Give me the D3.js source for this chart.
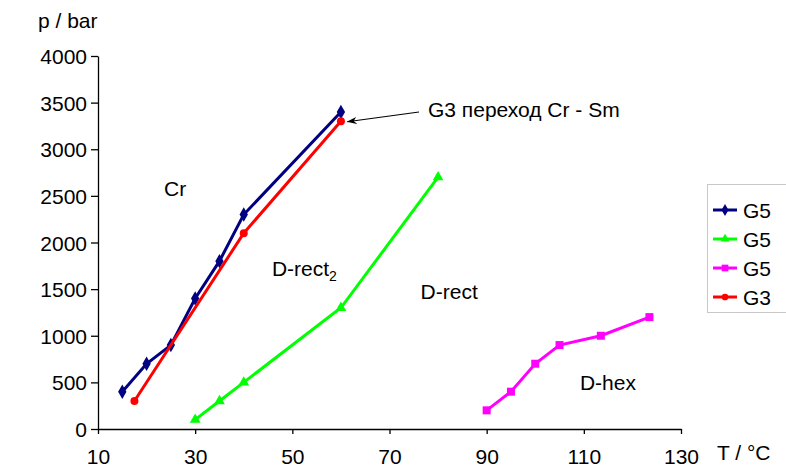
<!DOCTYPE html>
<html>
<head>
<meta charset="utf-8">
<script src="https://cdn.jsdelivr.net/npm/d3@7"></script>
<style>
  body { margin: 0; background: #fff; }
  text { font-family: "Liberation Sans", Arial, sans-serif; fill: #000; }
</style>
</head>
<body>
<div id="container"></div>
<script>
// series data
var g5aT = [15, 20, 25, 30, 35, 40, 60];
var g5aP = [400, 700, 900, 1400, 1800, 2300, 3400];
var g5bT = [30, 35, 40, 60, 80];
var g5bP = [100, 300, 500, 1300, 2700];
var g5cT = [90, 95, 100, 105, 113.5, 123.5];
var g5cP = [200, 400, 700, 900, 1000, 1200];
var g3T = [17.5, 40, 60];
var g3P = [300, 2100, 3300];

var xTicks = [10, 30, 50, 70, 90, 110, 130];
var yTicks = [0, 500, 1000, 1500, 2000, 2500, 3000, 3500, 4000];
var legendNames = ['G5', 'G5', 'G5', 'G3'];

var width = 786, height = 468;
var fontSize = 21;

var svg = d3.select('#container').append('svg')
    .attr('width', width)
    .attr('height', height);

var x = d3.scaleLinear().domain([10, 130]).range([98, 681]);
var y = d3.scaleLinear().domain([0, 4000]).range([429, 56]);

function zip(ts, ps) {
    return ts.map(function (t, i) { return { t: t, p: ps[i] }; });
}

var series = [
    { name: legendNames[0], color: '#000080', symbol: d3.symbolDiamond, size: 60, pts: zip(g5aT, g5aP) },
    { name: legendNames[1], color: '#00ff00', symbol: d3.symbolTriangle, size: 50, pts: zip(g5bT, g5bP) },
    { name: legendNames[2], color: '#ff00ff', symbol: d3.symbolSquare, size: 64, pts: zip(g5cT, g5cP) },
    { name: legendNames[3], color: '#ff0000', symbol: d3.symbolCircle, size: 50, pts: zip(g3T, g3P) }
];

// axes
var yAxis = d3.axisLeft(y).tickValues(yTicks).tickSize(7).tickSizeOuter(0).tickPadding(4)
    .tickFormat(d3.format('d'));
var gy = svg.append('g').attr('transform', 'translate(98,0)').call(yAxis);

var xAxis = d3.axisBottom(x).tickValues(xTicks).tickSize(5).tickSizeOuter(0)
    .tickFormat(d3.format('d'));
var gx = svg.append('g').attr('transform', 'translate(0,429)').call(xAxis);

[gx, gy].forEach(function (g) {
    g.select('.domain').attr('stroke', '#000').attr('stroke-width', 1.3);
    g.selectAll('.tick line').attr('stroke', '#000').attr('stroke-width', 1.3);
    g.selectAll('.tick text').attr('font-size', fontSize).attr('fill', '#000')
        .style('font-family', '"Liberation Sans", Arial, sans-serif');
});
gy.selectAll('.tick text').attr('dy', '0.36em');
gx.selectAll('.tick text').attr('y', 35).attr('dy', 0);

svg.append('text').attr('x', 38).attr('y', 28).attr('font-size', fontSize).text('p / bar');
svg.append('text').attr('x', 717).attr('y', 460).attr('font-size', fontSize).text('T / °C');

// region labels, placed in data units
var labels = [
    { t: 23.6, p: 2500, text: 'Cr' },
    { t: 76.4, p: 1394, text: 'D-rect' },
    { t: 109.2, p: 418, text: 'D-hex' }
];
svg.selectAll('text.region').data(labels).enter().append('text')
    .attr('class', 'region')
    .attr('x', function (d) { return x(d.t); })
    .attr('y', function (d) { return y(d.p); })
    .attr('font-size', fontSize)
    .text(function (d) { return d.text; });

var dr2 = svg.append('text')
    .attr('x', x(45.8)).attr('y', y(1641))
    .attr('font-size', fontSize);
dr2.append('tspan').text('D-rect');
dr2.append('tspan').attr('font-size', 14).attr('dy', 5).text('2');

// lines and markers
var line = d3.line()
    .x(function (d) { return x(d.t); })
    .y(function (d) { return y(d.p); });

series.forEach(function (s) {
    svg.append('path')
        .datum(s.pts)
        .attr('fill', 'none')
        .attr('stroke', s.color)
        .attr('stroke-width', 3)
        .attr('d', line);
    svg.selectAll(null).data(s.pts).enter().append('path')
        .attr('transform', function (d) { return 'translate(' + x(d.t) + ',' + y(d.p) + ')'; })
        .attr('d', d3.symbol().type(s.symbol).size(s.size))
        .attr('fill', s.color);
});

// annotation with arrow
svg.append('defs').append('marker')
    .attr('id', 'arrow')
    .attr('viewBox', '0 0 10 10')
    .attr('refX', 9.5).attr('refY', 5)
    .attr('markerWidth', 10).attr('markerHeight', 10)
    .attr('markerUnits', 'userSpaceOnUse')
    .attr('orient', 'auto')
    .append('path')
    .attr('d', 'M0,1.5 L10,5 L0,8.5 L3,5 Z')
    .attr('fill', '#000');

svg.append('line')
    .attr('x1', 419).attr('y1', 112)
    .attr('x2', x(61.3)).attr('y2', y(3300) + 0.5)
    .attr('stroke', '#000').attr('stroke-width', 1.1)
    .attr('marker-end', 'url(#arrow)');
svg.append('text').attr('x', 428).attr('y', 117).attr('font-size', fontSize)
    .text('G3 переход Cr - Sm');

// legend
var legend = svg.append('g');
legend.append('rect')
    .attr('x', 707.5).attr('y', 184.5)
    .attr('width', 90).attr('height', 128)
    .attr('fill', '#fff')
    .attr('stroke', '#c8c8c8');

var rows = legend.selectAll('g.row').data(series).enter().append('g')
    .attr('class', 'row')
    .attr('transform', function (d, i) { return 'translate(0,' + (210 + i * 29) + ')'; });
rows.append('line')
    .attr('x1', 713).attr('x2', 737)
    .attr('stroke', function (d) { return d.color; })
    .attr('stroke-width', 3);
rows.append('path')
    .attr('transform', 'translate(725,0)')
    .attr('d', function (d) { return d3.symbol().type(d.symbol).size(d.size * 0.7)(); })
    .attr('fill', function (d) { return d.color; });
rows.append('text')
    .attr('x', 743).attr('y', 7.5)
    .attr('font-size', fontSize)
    .text(function (d) { return d.name; });
</script>
</body>
</html>
